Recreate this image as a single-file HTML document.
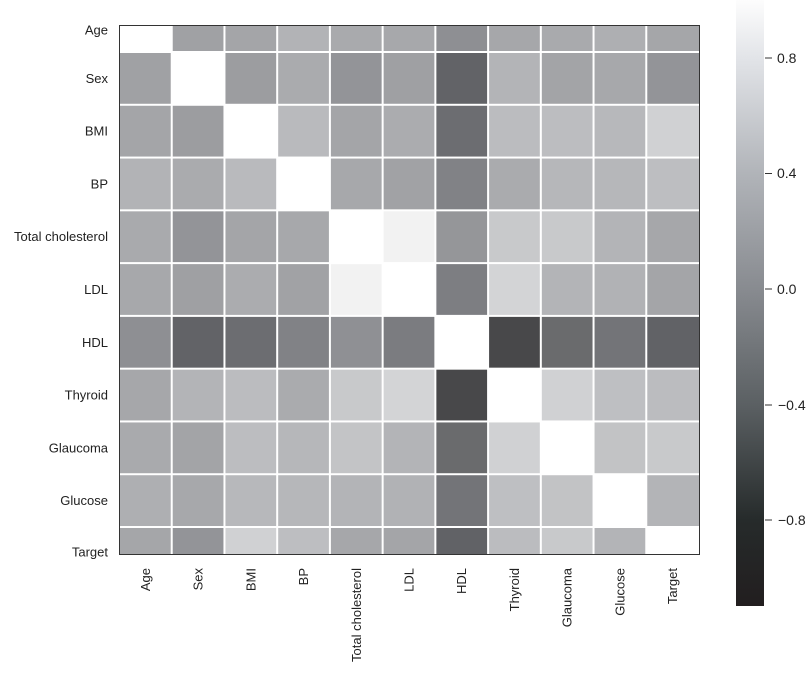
<!DOCTYPE html>
<html><head><meta charset="utf-8"><style>
html,body{margin:0;padding:0;background:#fff;}
svg{display:block;font-family:"Liberation Sans",Arial,sans-serif;}
</style></head><body>
<svg width="807" height="674" viewBox="0 0 807 674" xmlns="http://www.w3.org/2000/svg">
<defs>
<linearGradient id="cb" x1="0" y1="0" x2="0" y2="1">
<stop offset="0" stop-color="#fdfdfd"/>
<stop offset="0.096" stop-color="#e2e4e8"/>
<stop offset="0.286" stop-color="#b1b4b9"/>
<stop offset="0.477" stop-color="#888b90"/>
<stop offset="0.668" stop-color="#5b6063"/>
<stop offset="0.858" stop-color="#262b2b"/>
<stop offset="1" stop-color="#221e1f"/>
</linearGradient>
</defs>
<g id="cells"></g>
<rect x="119.5" y="25.5" width="580" height="529" fill="none" stroke="#333" stroke-width="1"/>
<g font-size="13" fill="#222" text-anchor="end" id="ylab"></g>
<g font-size="13" fill="#222" text-anchor="end" id="xlab"></g>
<rect x="736" y="0" width="28" height="606" fill="url(#cb)"/>
<g stroke="#333" stroke-width="1">
<line x1="765" y1="58" x2="772" y2="58"/><line x1="765" y1="173.5" x2="772" y2="173.5"/>
<line x1="765" y1="289" x2="772" y2="289"/><line x1="765" y1="405" x2="772" y2="405"/>
<line x1="765" y1="520" x2="772" y2="520"/>
</g>
<g font-size="14" fill="#222">
<text x="777" y="63">0.8</text><text x="777" y="178">0.4</text><text x="777" y="294">0.0</text>
<text x="778" y="410">−0.4</text><text x="778" y="525">−0.8</text>
</g>
<script>
var L=["Age","Sex","BMI","BP","Total cholesterol","LDL","HDL","Thyroid","Glaucoma","Glucose","Target"];
var W="#ffffff";
var C=[
[W,"#a0a1a4","#a4a5a8","#b2b3b6","#a9aaad","#a7a8ab","#8e8f93","#a6a7aa","#a9aaad","#aeafb2","#a5a6a9"],
["#a0a1a4",W,"#9c9da0","#aaabae","#939498","#9fa0a3","#626367","#b3b4b7","#a3a4a7","#a7a8ab","#939498"],
["#a4a5a8","#9c9da0",W,"#b9babd","#a4a5a8","#abacaf","#6c6d71","#bbbcbf","#bcbdc0","#b7b8bb","#d0d1d3"],
["#b2b3b6","#aaabae","#b9babd",W,"#a7a8ab","#a1a2a5","#818286","#aaabae","#b6b7ba","#b6b7ba","#bdbec1"],
["#a9aaad","#939498","#a4a5a8","#a7a8ab",W,"#f2f2f2","#959699","#c8c9cb","#c8c9cb","#b3b4b7","#a6a7aa"],
["#a7a8ab","#9fa0a3","#abacaf","#a1a2a5","#f2f2f2",W,"#7d7e82","#d3d4d6","#b3b4b7","#b1b2b5","#a4a5a8"],
["#8e8f93","#626367","#6c6d71","#818286","#8f9094","#7b7c80",W,"#48484a","#6a6b6d","#737478","#616266"],
["#a6a7aa","#b3b4b7","#bbbcbf","#aaabae","#c8c9cb","#d3d4d6","#48484a",W,"#d0d1d3","#bebfc2","#bbbcbf"],
["#a9aaad","#a3a4a7","#bcbdc0","#b6b7ba","#c3c4c6","#b3b4b7","#6a6b6d","#d0d1d3",W,"#c2c3c5","#c8c9cb"],
["#aeafb2","#a7a8ab","#b7b8bb","#b6b7ba","#b3b4b7","#b1b2b5","#737478","#bebfc2","#c2c3c5",W,"#b3b4b7"],
["#a5a6a9","#939498","#d0d1d3","#bdbec1","#a6a7aa","#a4a5a8","#616266","#bbbcbf","#c8c9cb","#b3b4b7",W]];
var NS="http://www.w3.org/2000/svg",g=document.getElementById("cells");
var x0=119,cw=580/11,rb=[25,52];for(var i=1;i<=9;i++)rb.push(52+i*475/9);rb.push(554);
for(var r=0;r<11;r++)for(var c=0;c<11;c++){var e=document.createElementNS(NS,"rect");
var x=x0+c*cw,y=rb[r];e.setAttribute("x",x+(c?1:0));e.setAttribute("y",y+(r?1:0));
e.setAttribute("width",cw-(c?1:0)-(c<10?1:0));e.setAttribute("height",rb[r+1]-y-(r?1:0)-(r<10?1:0));
e.setAttribute("fill",C[r][c]);g.appendChild(e);}
var yl=document.getElementById("ylab"),xl=document.getElementById("xlab");
var yc=[30];for(var i=1;i<=9;i++)yc.push(52+(i-0.5)*475/9);yc.push(552);
for(var k=0;k<11;k++){var t=document.createElementNS(NS,"text");t.setAttribute("x",108);t.setAttribute("y",yc[k]+4.5);t.textContent=L[k];yl.appendChild(t);
var u=document.createElementNS(NS,"text");var cx=x0+(k+0.5)*cw+4.5;u.setAttribute("transform","translate("+cx+",568) rotate(-90)");u.textContent=L[k];xl.appendChild(u);}
</script>
</svg>
</body></html>
